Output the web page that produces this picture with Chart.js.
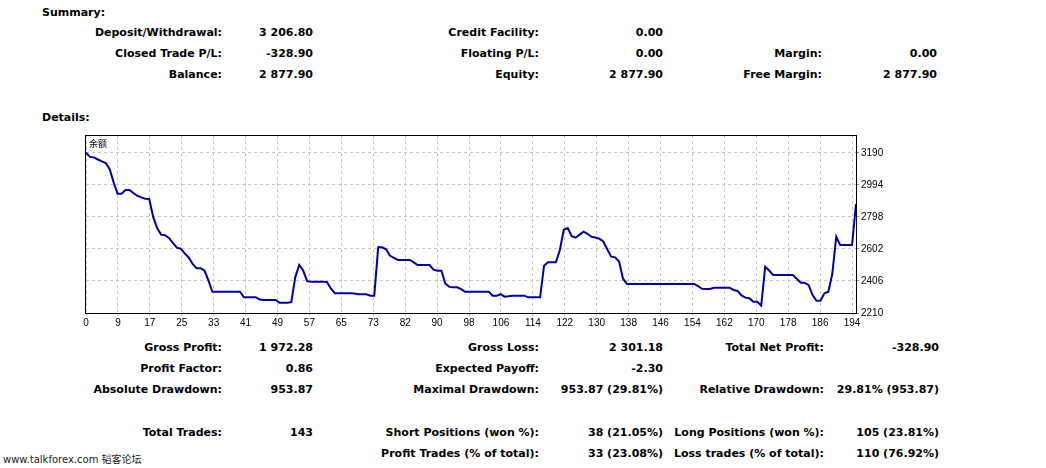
<!DOCTYPE html>
<html>
<head>
<meta charset="utf-8">
<script src="https://cdn.jsdelivr.net/npm/chart.js@4/dist/chart.umd.min.js"></script>
<style>
  body { margin: 0; background: #fff; width: 1046px; height: 468px; overflow: hidden; position: relative; }
  .t { position: absolute; font: bold 11px "DejaVu Sans", sans-serif; color: #000; white-space: nowrap; line-height: 14px; }
  #wm { position: absolute; left: 3px; top: 451px; font: 10px "DejaVu Sans", "Noto Sans CJK SC", sans-serif; color: #222; white-space: nowrap; }
  #chartBox { position: absolute; left: 76px; top: 125px; width: 820px; height: 206px; }
</style>
</head>
<body>
<div id="chartBox"><canvas id="balanceChart" width="820" height="206"></canvas></div>
<div id="wm">www.talkforex.com 韬客论坛</div>
<script>
// balance curve, one value per deal index
const balance = [
  3192, 3166, 3163, 3150, 3138, 3128, 3090, 3010, 2940, 2940,
  2963, 2963, 2945, 2928, 2918, 2910, 2908, 2800, 2730, 2690,
  2686, 2670, 2640, 2610, 2604, 2575, 2550, 2510, 2484, 2484,
  2470, 2410, 2340, 2340, 2340, 2340, 2340, 2340, 2340, 2340,
  2306, 2306, 2306, 2306, 2292, 2290, 2290, 2290, 2290, 2273,
  2273, 2273, 2276, 2430, 2504, 2470, 2405, 2402, 2402, 2402,
  2402, 2400, 2360, 2331, 2331, 2331, 2331, 2331, 2330, 2325,
  2325, 2325, 2316, 2316, 2612, 2612, 2600, 2560, 2548, 2535,
  2535, 2535, 2535, 2520, 2504, 2504, 2504, 2504, 2475, 2469,
  2469, 2390, 2370, 2367, 2367, 2356, 2340, 2340, 2340, 2340,
  2340, 2340, 2340, 2316, 2316, 2325, 2310, 2312, 2316, 2316,
  2316, 2316, 2306, 2306, 2306, 2306, 2500, 2521, 2521, 2521,
  2596, 2720, 2730, 2680, 2671, 2690, 2708, 2695, 2677, 2672,
  2665, 2648, 2600, 2555, 2551, 2525, 2420, 2388, 2388, 2388,
  2388, 2388, 2388, 2388, 2388, 2388, 2388, 2388, 2388, 2388,
  2388, 2388, 2388, 2388, 2388, 2375, 2358, 2357, 2357, 2365,
  2365, 2365, 2365, 2365, 2351, 2345, 2318, 2304, 2300, 2279,
  2279, 2255, 2494, 2470, 2443, 2443, 2443, 2443, 2443, 2443,
  2420, 2396, 2396, 2380, 2320, 2285, 2285, 2331, 2340, 2450,
  2677, 2626, 2626, 2626, 2626, 2878
];
const xTickLabels = ["0", "9", "17", "25", "33", "41", "49", "57", "65", "73", "82", "90", "98",
  "106", "114", "122", "130", "138", "146", "154", "162", "170", "178", "186", "194"];
const yTicks = [2210, 2406, 2602, 2798, 2994, 3190];
const seriesLabel = "余额";

// report text rows: [label, value, rightEdgeLabel, rightEdgeValue, y]
const summaryRows = [
  ["Deposit/Withdrawal:", "3 206.80", 222, 313, 33],
  ["Closed Trade P/L:", "-328.90", 222, 313, 54],
  ["Balance:", "2 877.90", 222, 313, 75],
  ["Credit Facility:", "0.00", 539, 663, 33],
  ["Floating P/L:", "0.00", 539, 663, 54],
  ["Equity:", "2 877.90", 539, 663, 75],
  ["Margin:", "0.00", 822, 937, 54],
  ["Free Margin:", "2 877.90", 822, 937, 75],
  ["Gross Profit:", "1 972.28", 222, 313, 348],
  ["Profit Factor:", "0.86", 222, 313, 369],
  ["Absolute Drawdown:", "953.87", 222, 313, 390],
  ["Gross Loss:", "2 301.18", 539, 663, 348],
  ["Expected Payoff:", "-2.30", 539, 663, 369],
  ["Maximal Drawdown:", "953.87 (29.81%)", 539, 663, 390],
  ["Total Net Profit:", "-328.90", 824, 939, 348],
  ["Relative Drawdown:", "29.81% (953.87)", 824, 939, 390],
  ["Total Trades:", "143", 222, 313, 433],
  ["Short Positions (won %):", "38 (21.05%)", 539, 663, 433],
  ["Profit Trades (% of total):", "33 (23.08%)", 539, 663, 454],
  ["Long Positions (won %):", "105 (23.81%)", 824, 939, 433],
  ["Loss trades (% of total):", "110 (76.92%)", 824, 939, 454]
];

function addText(s, right, y, left) {
  const d = document.createElement("div");
  d.className = "t";
  d.textContent = s;
  if (left !== undefined) d.style.left = left + "px";
  else d.style.right = (1046 - right) + "px";
  d.style.top = (y - 7) + "px";
  document.body.appendChild(d);
}
addText("Summary:", 0, 13, 42);
addText("Details:", 0, 118, 42);
summaryRows.forEach(r => {
  addText(r[0], r[2], r[4]);
  addText(r[1], r[3], r[4]);
});

const boxPlugin = {
  id: "box",
  afterDraw(chart) {
    const a = chart.chartArea;
    const ctx = chart.ctx;
    ctx.save();
    ctx.strokeStyle = "#000";
    ctx.lineWidth = 1;
    ctx.strokeRect(a.left - 0.5, a.top + 0.5, a.right - a.left + 1, a.bottom - a.top);
    ctx.fillStyle = "#000";
    ctx.font = "9px 'Noto Sans CJK SC', sans-serif";
    ctx.textBaseline = "middle";
    ctx.fillText(seriesLabel, a.left + 3, a.top + 9);
    ctx.restore();
  }
};

const xStep = 194 / (xTickLabels.length - 1);

new Chart(document.getElementById("balanceChart"), {
  type: "line",
  data: {
    datasets: [{
      label: seriesLabel,
      data: balance.map((v, i) => ({ x: i, y: v })),
      borderColor: "#0000aa",
      borderWidth: 2,
      pointRadius: 0,
      tension: 0,
      fill: false
    }]
  },
  options: {
    responsive: false,
    animation: false,
    layout: { padding: { left: 10, top: 10, right: 0, bottom: 0 } },
    plugins: { legend: { display: false }, tooltip: { enabled: false } },
    scales: {
      x: {
        type: "linear",
        min: 0,
        max: 195,
        afterFit(scale) { scale.height = 18; },
        afterBuildTicks(scale) {
          scale.ticks = xTickLabels.map((l, k) => ({ value: k * xStep }));
        },
        grid: { color: "#c8c8c8", tickLength: 3, tickColor: "#c8c8c8" },
        border: { display: false, dash: [3, 3] },
        ticks: {
          autoSkip: false,
          maxRotation: 0,
          padding: 1,
          color: "#000",
          font: { family: "Liberation Sans", size: 10 },
          callback(v, idx) { return xTickLabels[idx]; }
        }
      },
      y: {
        position: "right",
        min: 2210,
        max: 3300,
        afterFit(scale) { scale.width = 40; },
        afterBuildTicks(scale) {
          scale.ticks = yTicks.map(v => ({ value: v }));
        },
        grid: { color: "#c8c8c8", tickLength: 3, tickColor: "#888" },
        border: { display: false, dash: [3, 3] },
        ticks: {
          padding: 2,
          color: "#000",
          font: { family: "Liberation Sans", size: 10 },
          callback(v) { return String(v); }
        }
      }
    }
  },
  plugins: [boxPlugin]
});
</script>
</body>
</html>
